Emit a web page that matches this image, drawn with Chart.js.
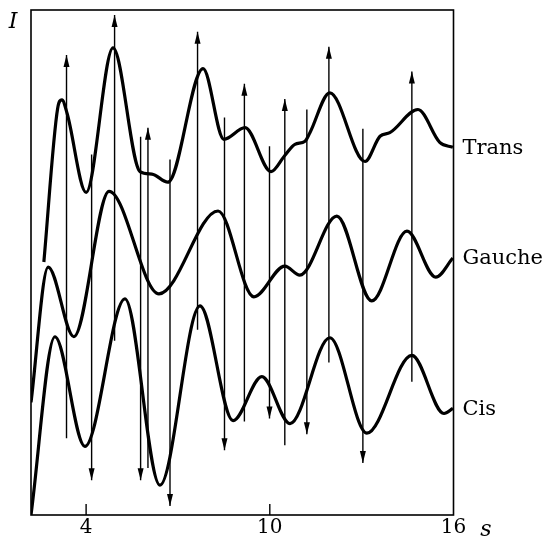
<!DOCTYPE html>
<html><head><meta charset="utf-8">
<script src="https://cdn.jsdelivr.net/npm/chart.js@4/dist/chart.umd.min.js"></script>
<style>html,body{margin:0;padding:0;background:#fff}#wrap{width:544px;height:541px}</style>
</head><body><div id="wrap"><canvas id="c" width="544" height="541"></canvas></div>
<script>
// ---- data (s in Å^-1, intensity in arbitrary units 0..100) ----
const seriesNames = ['Trans', 'Gauche', 'Cis'];
const transS = [2.62, 3.07, 3.21, 3.38, 4.00, 4.88, 5.76, 6.15, 6.67, 7.82, 8.50, 9.19, 10.04, 10.49, 10.82, 11.15, 11.31, 11.96, 13.11, 13.60, 13.92, 14.84, 15.55, 15.98];
const transI = [50.1, 80.5, 82.2, 79.5, 63.9, 92.5, 68.0, 67.5, 65.9, 88.4, 74.4, 76.7, 68.0, 71.2, 73.4, 74.0, 75.7, 83.6, 70.0, 75.0, 75.7, 80.3, 73.8, 72.8];
const gaucheS = [2.2, 2.76, 3.60, 4.75, 6.38, 8.31, 9.48, 10.49, 10.98, 12.19, 13.33, 14.48, 15.42, 15.98];
const gaucheI = [22.3, 49.1, 35.3, 64.1, 43.8, 60.2, 43.2, 49.3, 47.5, 59.2, 42.4, 56.2, 47.1, 50.9];
const cisS = [2.2, 2.98, 3.96, 5.27, 6.41, 7.72, 8.80, 9.74, 10.66, 11.96, 13.17, 14.64, 15.69, 15.98];
const cisI = [0, 35.3, 13.6, 42.8, 5.9, 41.4, 18.7, 27.4, 18.1, 35.1, 16.2, 31.6, 20.1, 21.1];
// vertical arrows (theoretical term positions)
const arrowS    = [3.36, 4.18, 4.93, 5.78, 6.02, 6.74, 7.64, 8.52, 9.17, 9.99, 10.49, 11.21, 11.93, 13.04, 14.64];
const arrowLow  = [15.2, 6.9, 34.5, 6.9, 9.3, 1.8, 36.7, 12.8, 18.5, 19.1, 13.8, 16.0, 30.2, 10.3, 26.4];
const arrowHigh = [91.1, 71.4, 99.0, 74.9, 76.7, 70.4, 95.7, 78.7, 85.4, 73.0, 82.4, 80.3, 92.7, 76.5, 87.8];
const arrowDir  = ['up','down','up','down','up','down','up','down','up','down','up','down','up','down','up'];
const xTicks = [4, 10, 16];
const xMin = 2.2, xMax = 16;

const FONT = "'DejaVu Serif', 'Liberation Serif', serif";
const toPts = (xs, ys) => xs.map((x, i) => ({x, y: ys[i]}));
const curves = [[transS, transI], [gaucheS, gaucheI], [cisS, cisI]];

const datasets = [];
curves.forEach((c, i) => datasets.push({
  label: seriesNames[i], data: toPts(c[0], c[1]), showLine: true,
  borderColor: '#000', borderWidth: 3.2, pointRadius: 0,
  cubicInterpolationMode: 'monotone', fill: false, order: 0
}));
arrowS.forEach((s, i) => datasets.push({
  label: 'arrow' + i, data: [{x: s, y: arrowLow[i]}, {x: s, y: arrowHigh[i]}],
  showLine: true, borderColor: '#000', borderWidth: 1.4, pointRadius: 0, fill: false, order: 1
}));

const deco = {
  id: 'deco',
  afterDatasetsDraw(chart) {
    const ctx = chart.ctx, xs = chart.scales.x, ys = chart.scales.y, a = chart.chartArea;
    ctx.save();
    // arrow heads
    ctx.fillStyle = '#000';
    arrowS.forEach((s, i) => {
      const px = xs.getPixelForValue(s);
      if (arrowDir[i] === 'up') {
        const t = ys.getPixelForValue(arrowHigh[i]);
        ctx.beginPath(); ctx.moveTo(px, t); ctx.lineTo(px - 3, t + 12); ctx.lineTo(px + 3, t + 12); ctx.closePath(); ctx.fill();
      } else {
        const t = ys.getPixelForValue(arrowLow[i]);
        ctx.beginPath(); ctx.moveTo(px, t); ctx.lineTo(px - 3, t - 12); ctx.lineTo(px + 3, t - 12); ctx.closePath(); ctx.fill();
      }
    });
    // frame
    ctx.strokeStyle = '#000'; ctx.lineWidth = 1.6;
    ctx.strokeRect(a.left, a.top, a.right - a.left, a.bottom - a.top);
    // inward ticks
    ctx.lineWidth = 1.4;
    xTicks.forEach(v => {
      const px = xs.getPixelForValue(v);
      if (px < a.right - 2) { ctx.beginPath(); ctx.moveTo(px, a.bottom); ctx.lineTo(px, a.bottom - 11); ctx.stroke(); }
    });
    // series labels
    ctx.fillStyle = '#000'; ctx.font = '21px ' + FONT; ctx.textBaseline = 'middle'; ctx.textAlign = 'left';
    curves.forEach((c, i) => {
      const py = ys.getPixelForValue(c[1][c[1].length - 1]);
      ctx.fillText(seriesNames[i], a.right + 9, py + 1);
    });
    // axis symbols
    ctx.font = 'italic 22px ' + FONT; ctx.textAlign = 'center';
    ctx.fillText('I', 13, 22);
    ctx.fillText('s', 486, 530);
    ctx.restore();
  }
};

new Chart(document.getElementById('c'), {
  type: 'scatter',
  data: {datasets},
  options: {
    responsive: false, animation: false, devicePixelRatio: 1,
    layout: {padding: {left: 31, top: 10, right: 90.5, bottom: 0}},
    plugins: {legend: {display: false}, tooltip: {enabled: false}},
    scales: {
      x: {type: 'linear', min: xMin, max: xMax, position: 'bottom',
          grid: {display: false, drawTicks: false}, border: {display: false},
          afterBuildTicks: ax => { ax.ticks = xTicks.map(v => ({value: v})); },
          ticks: {color: '#000', padding: 1, maxRotation: 0, font: {family: FONT, size: 20}, callback: v => String(v)}},
      y: {type: 'linear', min: 0, max: 100, display: false}
    }
  },
  plugins: [deco]
});
</script></body></html>
